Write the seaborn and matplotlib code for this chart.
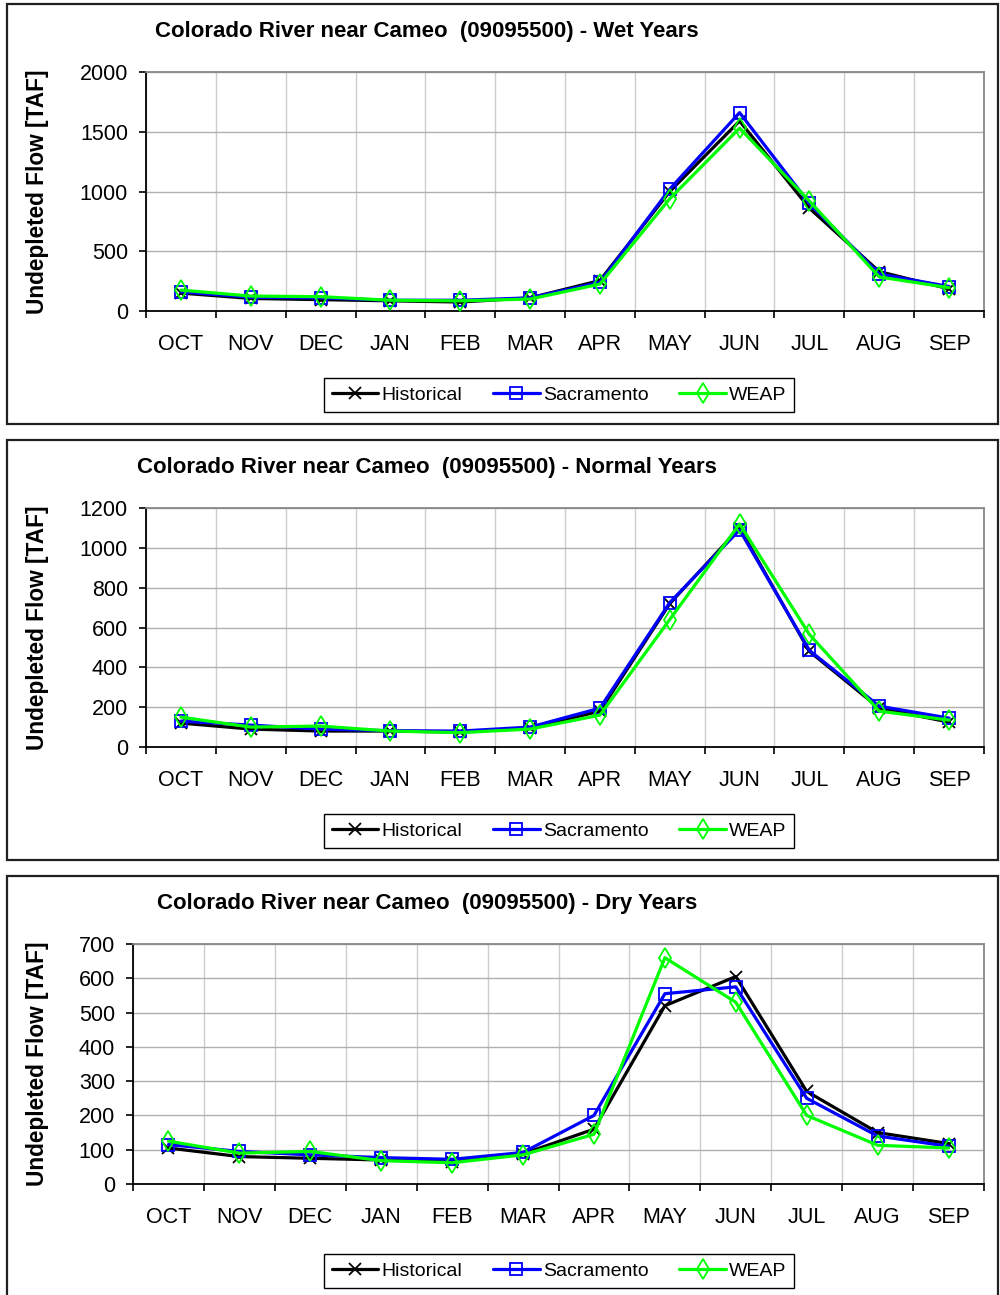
import numpy as np
import pandas as pd
import matplotlib
matplotlib.use("Agg")
import matplotlib.pyplot as plt
import seaborn as sns
from matplotlib.patches import Rectangle
from matplotlib.ticker import FixedLocator, MultipleLocator

months = ["OCT", "NOV", "DEC", "JAN", "FEB", "MAR", "APR", "MAY", "JUN", "JUL", "AUG", "SEP"]
series_names = ["Historical", "Sacramento", "WEAP"]

wet_hist = [150, 105, 95, 85, 75, 110, 255, 1000, 1590, 860, 330, 185]
wet_sac = [160, 115, 110, 90, 90, 110, 240, 1020, 1660, 900, 310, 205]
wet_weap = [175, 125, 120, 90, 85, 100, 225, 940, 1530, 920, 285, 195]

normal_hist = [120, 90, 80, 80, 75, 95, 180, 720, 1100, 480, 195, 125]
normal_sac = [130, 110, 90, 82, 80, 100, 195, 725, 1090, 485, 205, 145]
normal_weap = [150, 100, 105, 80, 72, 90, 160, 640, 1120, 565, 180, 135]

dry_hist = [105, 80, 75, 70, 65, 88, 160, 520, 605, 270, 150, 118]
dry_sac = [115, 95, 85, 77, 72, 92, 200, 555, 575, 250, 140, 110]
dry_weap = [125, 90, 95, 68, 62, 85, 145, 660, 530, 200, 113, 105]

titles = [
    "Colorado River near Cameo  (09095500) - Wet Years",
    "Colorado River near Cameo  (09095500) - Normal Years",
    "Colorado River near Cameo  (09095500) - Dry Years",
]
y_label = "Undepleted Flow [TAF]"
y_max = [2000, 1200, 700]
y_step = [500, 200, 100]

panels = [
    [wet_hist, wet_sac, wet_weap],
    [normal_hist, normal_sac, normal_weap],
    [dry_hist, dry_sac, dry_weap],
]

sns.set_style("white")
plt.rcParams["font.family"] = ["Liberation Sans", "DejaVu Sans"]
plt.rcParams["text.color"] = "black"
plt.rcParams["xtick.color"] = "black"
plt.rcParams["ytick.color"] = "black"
plt.rcParams["axes.labelcolor"] = "black"

W, H = 1000, 1295
fig = plt.figure(figsize=(W / 100, H / 100), dpi=100)

def fx(px):
    return px / W

def fy(py):
    return 1 - py / H

# pixel layout: (panel top, panel bottom, axes left, axes top, axes bottom)
layout = [
    (4, 424, 146, 72, 311),
    (440, 860, 146, 508, 747),
    (876, 1300, 133, 944, 1184),
]
ax_right = 984

colors = {"Historical": "#000000", "Sacramento": "#0000FF", "WEAP": "#00FF00"}
markers = {"Historical": "x", "Sacramento": "s", "WEAP": "d"}
msizes = {"Historical": 9, "Sacramento": 9, "WEAP": 10}

xpos = np.arange(len(months))

for i, (ptop, pbot, axl, axt, axb) in enumerate(layout):
    # panel frame
    fig.patches.append(Rectangle((fx(7), fy(pbot)), fx(998) - fx(7), fy(ptop) - fy(pbot),
                                 transform=fig.transFigure, fill=False,
                                 edgecolor="#202020", linewidth=1.6, zorder=0))
    ax = fig.add_axes([fx(axl), fy(axb), fx(ax_right) - fx(axl), fy(axt) - fy(axb)])
    for name, vals in zip(series_names, panels[i]):
        sns.lineplot(x=xpos, y=vals, ax=ax, color=colors[name], linewidth=2.3,
                     marker=markers[name], markersize=msizes[name],
                     markerfacecolor="none", markeredgecolor=colors[name],
                     markeredgewidth=1.3, label=name, zorder=3)
    ax.set_xlim(-0.5, len(months) - 0.5)
    ax.set_ylim(0, y_max[i])
    ax.yaxis.set_major_locator(MultipleLocator(y_step[i]))
    ax.set_xticks(xpos)
    ax.set_xticklabels(months)
    ax.xaxis.set_minor_locator(FixedLocator(np.arange(-0.5, len(months), 1.0)))
    ax.tick_params(axis="x", which="major", length=0, pad=16.5, labelsize=15.5,
                   labelcolor="black")
    ax.tick_params(axis="x", which="minor", length=5, width=1.2, direction="out",
                   bottom=True, color="black")
    ax.tick_params(axis="y", which="major", length=5, width=1.2, direction="out",
                   left=True, pad=8, labelsize=15.5, color="black", labelcolor="black")
    ax.grid(True, axis="x", which="minor", color="#cccccc", linewidth=1.0)
    ax.grid(True, axis="y", which="major", color="#b0b0b0", linewidth=1.0)
    ax.grid(False, axis="x", which="major")
    ax.set_axisbelow(True)
    ax.set_xlabel("")
    ax.set_ylabel("")
    for s in ["left", "bottom"]:
        ax.spines[s].set_color("black")
        ax.spines[s].set_linewidth(1.3)
    for s in ["top", "right"]:
        ax.spines[s].set_color("#888888")
        ax.spines[s].set_linewidth(1.3)
    # title and y label
    fig.text(fx(427), fy(ptop + 28), titles[i], ha="center", va="center",
             fontsize=16, fontweight="bold", color="black")
    fig.text(fx(38), fy((axt + axb) / 2), y_label, ha="center", va="center",
             rotation=90, fontsize=16.3, fontweight="bold", color="black")
    # legend
    handles, labels = ax.get_legend_handles_labels()
    leg = ax.legend(handles, labels, loc="center",
                    bbox_to_anchor=(fx(559), fy(pbot - 29)),
                    bbox_transform=fig.transFigure, ncol=3, fontsize=14,
                    frameon=True, fancybox=False, framealpha=1, edgecolor="black",
                    handlelength=2.4, handletextpad=0.15, columnspacing=1.6,
                    borderpad=0.4, borderaxespad=0)
    leg.get_frame().set_linewidth(1.0)
    for t in leg.get_texts():
        t.set_color("black")

fig.savefig("out.png", dpi=100, facecolor="white")
